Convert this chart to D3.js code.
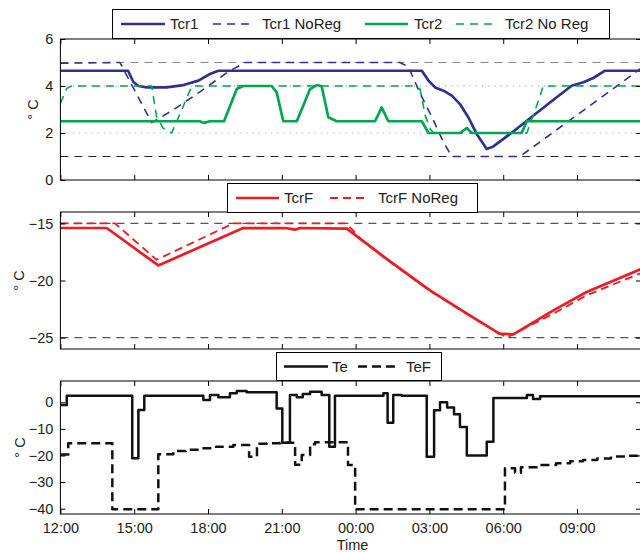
<!DOCTYPE html>
<html><head><meta charset="utf-8">
<script src="https://cdn.jsdelivr.net/npm/d3@7/dist/d3.min.js"></script>
<style>
body{margin:0;background:#fff}
svg{display:block}
text{font-family:"Liberation Sans",Arial,Helvetica,sans-serif;fill:#222}
</style></head>
<body><svg id="chart" width="640" height="552"></svg>
<script>
// ---- axis ticks (hours after 12:00) ----
const tickHours=[0,3,6,9,12,15,18,21];
const tickLabels=["12:00","15:00","18:00","21:00","00:00","03:00","06:00","09:00"];
const xEnd=23.6;

// ---- top panel: Tcr1 / Tcr2 (°C) ----
const tcr1T=[0,2.75,2.96,3.17,3.51,4.32,5.0,5.61,6.08,6.42,14.69,14.96,15.23,15.57,15.91,16.24,16.58,16.92,17.33,17.6,18.28,18.96,19.9,20.78,21.26,21.66,22.14,23.6];
const tcr1V=[4.65,4.65,4.18,4.0,3.94,3.94,4.04,4.23,4.51,4.65,4.65,4.23,3.94,3.8,3.59,3.23,2.67,1.96,1.32,1.43,1.96,2.52,3.3,4.01,4.16,4.34,4.65,4.65];
const tcr1NoRegT=[0,2.42,3.71,4.58,5.67,6.81,7.5,13.8,14.14,14.62,15.16,15.56,15.91,18.68,23.6];
const tcr1NoRegV=[4.97,5.0,2.44,2.98,3.75,4.6,5.0,5.0,4.82,3.69,2.55,1.63,1.0,1.0,4.75];
const tcr2T=[0,5.67,5.84,6.08,6.65,7.17,7.43,8.59,8.79,9.06,9.61,10.15,10.42,10.62,10.89,11.23,12.79,13.06,13.33,14.69,14.96,16.24,16.52,16.72,18.75,18.96,23.6];
const tcr2V=[2.5,2.5,2.43,2.5,2.5,3.87,4.0,4.0,3.73,2.5,2.5,3.87,4.04,3.99,2.67,2.5,2.5,3.09,2.5,2.5,2.0,2.0,2.21,2.0,2.0,2.5,2.5];
const tcr2NoRegT=[0,0.26,0.46,3.71,3.91,4.18,4.52,4.93,5.34,14.35,14.62,14.83,15.04,15.16,18.96,19.09,19.36,19.63,23.6];
const tcr2NoRegV=[3.26,3.9,4.0,4.0,2.69,2.2,2.0,2.98,4.0,4.0,3.87,2.74,2.17,2.0,2.0,2.38,3.16,4.0,4.0];

// ---- middle panel: TcrF ----
const tcrFT=[0,1.88,3.98,7.43,9.13,9.54,9.74,11.64,12.31,13.26,15.02,16.64,17.84,18.41,20.04,21.39,23.6];
const tcrFV=[-15.4,-15.4,-18.68,-15.41,-15.4,-15.55,-15.4,-15.46,-16.55,-18.1,-20.87,-23.06,-24.66,-24.72,-22.62,-21.01,-19.0];
const tcrFNoRegT=[0,2.22,3.91,7.03,11.57,11.85,12.31,13.26,15.02,16.64,18.14,20.04,21.39,23.6];
const tcrFNoRegV=[-15,-15,-18.18,-15,-15,-15.5,-16.6,-18.15,-20.9,-23.1,-25.0,-22.9,-21.3,-19.35];

// ---- bottom panel: Te / TeF (step signals) ----
const teT=[0,0.26,2.92,3.17,3.41,5.81,6.08,6.42,6.89,7.17,7.57,8.79,9.02,9.33,9.61,9.85,10.15,10.62,10.93,11.16,13.13,13.30,13.53,13.87,14.89,15.19,15.43,15.72,16.0,16.24,16.52,17.33,17.60,18.96,19.21,19.50,23.6];
const teV=[-1.0,2.5,-21.0,-2.9,2.5,0.9,2.7,1.9,3.4,4.2,3.8,-2.3,-15.2,2.7,1.9,3.1,4.0,2.7,-16.7,2.5,3.4,-7.7,2.7,2.5,-20.5,-3.0,0.0,-2.0,-4.5,-9.3,-20.0,-14.8,1.6,2.7,1.2,2.3,2.3];
const teFT=[0,0.32,2.11,3.98,4.59,5.1,5.67,6.33,7.03,7.67,7.99,8.39,8.93,9.54,9.81,10.15,10.35,11.69,11.98,18.07,18.48,18.72,19.5,20.15,20.72,21.24,21.82,22.38,22.95,23.44,23.6];
const teFV=[-19.6,-15.4,-40.2,-19.5,-18.3,-17.8,-17.3,-16.7,-16.1,-20.5,-15.6,-15.4,-15.2,-23.5,-19.8,-15.8,-15.0,-23.6,-40.2,-24.8,-26.5,-24.4,-23.6,-22.9,-22.2,-21.7,-21.1,-20.4,-20.1,-19.4,-19.4];

// ---- y ticks ----
const topTicks=[0,2,4,6], midTicks=[-25,-20,-15], botTicks=[-40,-30,-20,-10,0];

const zip=(t,v)=>t.map((d,i)=>[d,v[i]]);
const svg=d3.select("#chart");
const x=d3.scaleLinear().domain([0,xEnd]).range([60.4,641]);

const BLUE="#2e3192", GREEN="#00a651", RED="#ed1c24", BLACK="#111";

const panels=[
 {id:"p1",dom:[0,6],top:39,bottom:180,ticks:topTicks,ylabX:37.5,
  refs:[{v:5,c:"#8a8a8a",d:"8,6"},{v:4,c:"#9a9a9a",d:"1.2,5"},{v:2,c:"#b0b0b0",d:"1.2,5"},{v:1,c:"#222",d:"8,6"}],
  series:[
   {d:zip(tcr1T,tcr1V),c:BLUE,w:2.7,dash:null,name:"Tcr1"},
   {d:zip(tcr1NoRegT,tcr1NoRegV),c:BLUE,w:1.6,dash:"8,6",name:"Tcr1 NoReg"},
   {d:zip(tcr2T,tcr2V),c:GREEN,w:2.7,dash:null,name:"Tcr2"},
   {d:zip(tcr2NoRegT,tcr2NoRegV),c:GREEN,w:1.6,dash:"8,6",name:"Tcr2 No Reg"}],
  legend:{x:112,y:9,w:497,h:29,items:[[121,165,170],[213,252,262],[365,408,414],[456,496,505]]}},
 {id:"p2",dom:[-26,-14],top:212,bottom:349,ticks:midTicks,ylabX:24,
  refs:[{v:-15,c:"#555",d:"8,6"},{v:-25,c:"#555",d:"8,6"}],
  series:[
   {d:zip(tcrFT,tcrFV),c:RED,w:2.7,dash:null,name:"TcrF"},
   {d:zip(tcrFNoRegT,tcrFNoRegV),c:RED,w:1.8,dash:"8,5",name:"TcrF NoReg"}],
  legend:{x:227,y:183,w:250,h:29,items:[[236,279,284],[330,369,378]]}},
 {id:"p3",dom:[-42,8],top:381,bottom:514,ticks:botTicks,ylabX:25,
  refs:[],
  series:[
   {d:zip(teT,teV),c:BLACK,w:2.5,dash:null,name:"Te",step:true},
   {d:zip(teFT,teFV),c:BLACK,w:2.5,dash:"9,5",name:"TeF",step:true}],
  legend:{x:276,y:352,w:165,h:28,items:[[284,328,332],[358,398,406]]}}
];

panels.forEach((p,pi)=>{
  const y=d3.scaleLinear().domain(p.dom).range([p.bottom,p.top]);
  const g=svg.append("g");
  g.append("clipPath").attr("id","clip"+p.id).append("rect")
    .attr("x",60.4).attr("y",p.top).attr("width",641-60.4).attr("height",p.bottom-p.top);
  const pg=g.append("g").attr("clip-path","url(#clip"+p.id+")");
  p.refs.forEach(r=>{
    pg.append("line").attr("x1",x(0)).attr("x2",x(xEnd)).attr("y1",y(r.v)).attr("y2",y(r.v))
      .attr("stroke",r.c).attr("stroke-width",1.1).attr("stroke-dasharray",r.d);
  });
  p.series.forEach(s=>{
    const ln=d3.line().x(d=>x(d[0])).y(d=>y(d[1])).curve(s.step?d3.curveStepAfter:d3.curveLinear);
    pg.append("path").attr("d",ln(s.d)).attr("fill","none").attr("stroke",s.c)
      .attr("stroke-width",s.w).attr("stroke-linejoin","round")
      .attr("stroke-dasharray",s.dash);
  });
  g.append("rect").attr("x",x(0)).attr("y",p.top).attr("width",x(xEnd)-x(0)).attr("height",p.bottom-p.top)
    .attr("fill","none").attr("stroke","#000").attr("stroke-width",1);
  const isLast=pi===panels.length-1;
  g.append("g").attr("transform",`translate(0,${p.bottom})`)
    .call(d3.axisBottom(x).tickValues(tickHours).tickSize(-5).tickPadding(9)
      .tickFormat((d,i)=>isLast?tickLabels[i]:""));
  g.append("g").attr("transform",`translate(0,${p.top})`)
    .call(d3.axisTop(x).tickValues(tickHours).tickSize(-5).tickFormat(""));
  g.append("g").attr("transform",`translate(${x(0)},0)`)
    .call(d3.axisLeft(y).tickValues(p.ticks).tickSize(-5).tickPadding(7).tickFormat(d3.format("d")));
  g.append("g").attr("transform",`translate(${x(xEnd)},0)`)
    .call(d3.axisRight(y).tickValues(p.ticks).tickSize(-5).tickFormat(""));
  g.selectAll(".domain").remove();
  g.selectAll(".tick line").attr("stroke","#000");
  g.selectAll(".tick text").attr("font-size","14.5px").attr("font-family","Liberation Sans, Arial, sans-serif").attr("fill","#222");
  g.append("text").attr("transform",`translate(${p.ylabX},${(p.top+p.bottom)/2}) rotate(-90)`)
    .attr("text-anchor","middle").attr("font-size","14.5px").text("° C");
  const L=p.legend;
  const lg=svg.append("g");
  lg.append("rect").attr("x",L.x+0.5).attr("y",L.y+0.5).attr("width",L.w).attr("height",L.h)
    .attr("fill","#fff").attr("stroke","#000").attr("stroke-width",1);
  const cy=L.y+L.h/2+0.5;
  p.series.forEach((s,i)=>{
    const it=L.items[i];
    lg.append("line").attr("x1",it[0]).attr("x2",it[1]).attr("y1",cy).attr("y2",cy)
      .attr("stroke",s.c).attr("stroke-width",s.w).attr("stroke-dasharray",s.dash);
    lg.append("text").attr("x",it[2]).attr("y",cy).attr("dy","0.36em").attr("font-size","15px").text(s.name);
  });
});
svg.append("text").attr("x",352.5).attr("y",550).attr("text-anchor","middle").attr("font-size","14.5px").text("Time");
</script></body></html>
